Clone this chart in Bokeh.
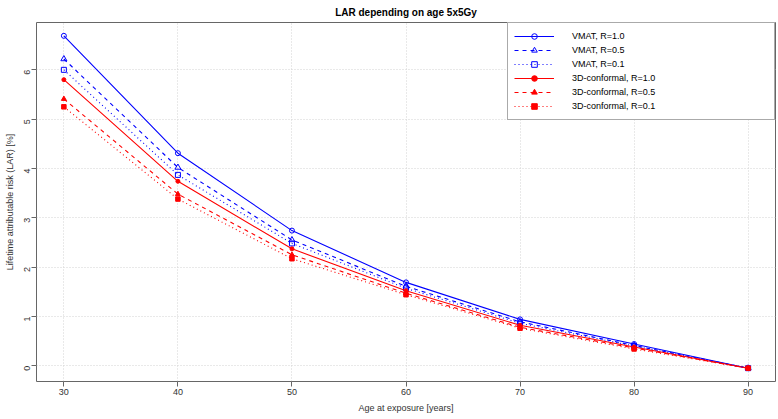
from bokeh.plotting import figure
from bokeh.models import Range1d, Legend, LegendItem, FixedTicker
from bokeh.embed import file_html
from bokeh.resources import INLINE
import math

ages = [30, 40, 50, 60, 70, 80, 90]
vmat_r10 = [6.69, 4.31, 2.74, 1.69, 0.94, 0.44, -0.05]
vmat_r05 = [6.22, 4.02, 2.55, 1.61, 0.89, 0.41, -0.05]
vmat_r01 = [6.00, 3.87, 2.48, 1.57, 0.86, 0.40, -0.05]
conf_r10 = [5.80, 3.74, 2.37, 1.52, 0.82, 0.38, -0.05]
conf_r05 = [5.41, 3.48, 2.25, 1.47, 0.78, 0.36, -0.05]
conf_r01 = [5.25, 3.38, 2.17, 1.44, 0.76, 0.34, -0.05]

x_ticks = [30, 40, 50, 60, 70, 80, 90]
y_ticks = [0, 1, 2, 3, 4, 5, 6]

title = "LAR depending on age 5x5Gy"
x_label = "Age at exposure [years]"
y_label = "Lifetime attributable risk (LAR) [%]"

series = [
    ("VMAT, R=1.0", vmat_r10, "#0000FF", "solid", "circle", 5, False),
    ("VMAT, R=0.5", vmat_r05, "#0000FF", "4 4", "triangle", 6, False),
    ("VMAT, R=0.1", vmat_r01, "#0000FF", "1 3", "square", 5, False),
    ("3D-conformal, R=1.0", conf_r10, "#FF0000", "solid", "circle", 4, True),
    ("3D-conformal, R=0.5", conf_r05, "#FF0000", "4 4", "triangle", 5, True),
    ("3D-conformal, R=0.1", conf_r01, "#FF0000", "1 3", "square", 4.5, True),
]

FONT = "Liberation Sans"

p = figure(width=778, height=419, output_backend="svg", toolbar_location=None,
           x_range=Range1d(27.6, 92.4), y_range=Range1d(-0.32, 6.96),
           title=title, min_border_left=36, min_border_right=3,
           min_border_top=22, min_border_bottom=38)

p.title.align = "center"
p.title.text_font = FONT
p.title.text_font_size = "10px"
p.title.text_font_style = "bold"
p.title.text_color = "#000000"
p.title.standoff = 9
p.title.offset = 0

p.outline_line_color = "#666666"
p.outline_line_width = 1
p.background_fill_color = "white"
p.border_fill_color = "white"

for ax in (p.xaxis[0], p.yaxis[0]):
    ax.axis_line_color = None
    ax.major_tick_line_color = "#666666"
    ax.minor_tick_line_color = None
    ax.major_tick_in = 0
    ax.major_tick_out = 5
    ax.major_label_text_font = FONT
    ax.major_label_text_font_size = "9px"
    ax.major_label_text_color = "#333333"
    ax.axis_label_text_font = FONT
    ax.axis_label_text_font_size = "9px"
    ax.axis_label_text_font_style = "normal"
    ax.axis_label_text_color = "#333333"

p.xaxis.ticker = FixedTicker(ticks=x_ticks)
p.yaxis.ticker = FixedTicker(ticks=y_ticks)
p.xaxis.axis_label = x_label
p.yaxis.axis_label = y_label
p.xaxis.major_label_standoff = 2
p.xaxis.axis_label_standoff = 5
p.yaxis.major_label_standoff = 4
p.yaxis.axis_label_standoff = 4
p.yaxis.major_label_orientation = math.pi / 2

p.xgrid.ticker = FixedTicker(ticks=x_ticks)
p.ygrid.ticker = FixedTicker(ticks=y_ticks)
for g in (p.xgrid[0], p.ygrid[0]):
    g.grid_line_color = "#d3d3d3"
    g.grid_line_dash = "1 2"
    g.grid_line_width = 1

items = []
for label, ys, color, dash, marker, size, filled in series:
    r1 = p.line(ages, ys, line_color=color, line_dash=dash, line_width=1.1)
    r2 = p.scatter(ages, ys, marker=marker, size=size, line_color=color,
                   fill_color=color if filled else None, line_width=1.0)
    items.append(LegendItem(label=label, renderers=[r1, r2]))

legend = Legend(items=items, location="top_right", margin=0, padding=6,
                spacing=0, glyph_width=40, glyph_height=14, label_height=14,
                label_width=196, label_standoff=18,
                label_text_font=FONT, label_text_font_size="9px",
                label_text_color="#000000",
                border_line_color="#555555", border_line_width=1,
                background_fill_color="white", background_fill_alpha=1.0)
p.add_layout(legend)

open("out.html", "w").write(file_html(p, INLINE))
